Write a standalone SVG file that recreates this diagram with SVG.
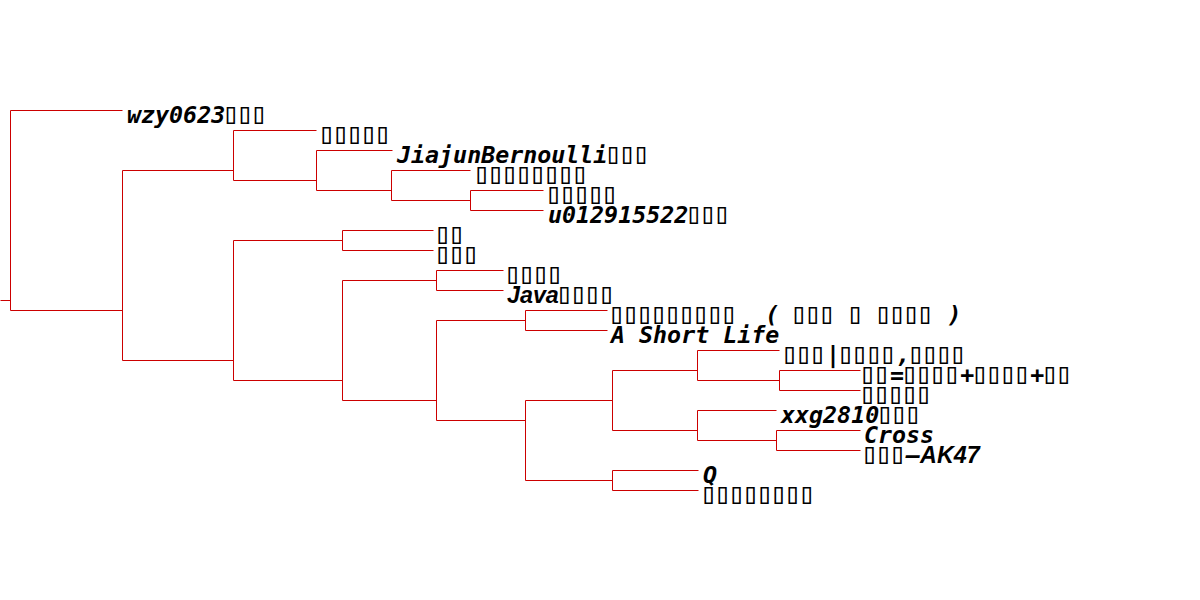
<svg xmlns="http://www.w3.org/2000/svg" width="1200" height="600" viewBox="0 0 1200 600">
<style>
.e{fill:none;stroke:#cc0000;stroke-width:1}
.t{font-family:"DejaVu Sans Mono","Liberation Mono",monospace;font-size:23.3px;font-weight:bold;font-style:italic;fill:#000}
.s{font-family:"Liberation Sans",Arial,sans-serif}
.b{font-size:29px;font-weight:normal;font-style:normal;letter-spacing:-3.44px}
</style>
<rect width="1200" height="600" fill="#fff"/>
<g id="connectors" transform="translate(0.5,0.5)">
<path class="e" d="M0,300 H10"/>
<path class="e" d="M122,110 H10 V310 H122"/>
<path class="e" d="M233,170 H122 V360 H233"/>
<path class="e" d="M316,130 H233 V180 H316"/>
<path class="e" d="M392,150 H316 V190 H391"/>
<path class="e" d="M470,170 H391 V200 H470"/>
<path class="e" d="M543,190 H470 V210 H543"/>
<path class="e" d="M342,240 H233 V380 H342"/>
<path class="e" d="M433,230 H342 V250 H433"/>
<path class="e" d="M436,280 H342 V400 H436"/>
<path class="e" d="M503,270 H436 V290 H503"/>
<path class="e" d="M525,320 H436 V420 H525"/>
<path class="e" d="M607,310 H525 V330 H607"/>
<path class="e" d="M612,400 H525 V480 H612"/>
<path class="e" d="M697,370 H612 V430 H697"/>
<path class="e" d="M779,350 H697 V380 H779"/>
<path class="e" d="M860,370 H779 V390 H860"/>
<path class="e" d="M776,410 H697 V440 H776"/>
<path class="e" d="M860,430 H776 V450 H860"/>
<path class="e" d="M698,470 H612 V490 H698"/>
</g>
<g id="n1"><text class="t" x="127" y="123">wzy0623<tspan class="b" dx="-3">▯▯▯</tspan></text></g>
<g id="n2"><text class="t b" x="318" y="143">▯▯▯▯▯</text></g>
<g id="n3"><text class="t" x="397" y="163">JiajunBernoulli<tspan class="b" dx="-3">▯▯▯</tspan></text></g>
<g id="n4"><text class="t b" x="473" y="183">▯▯▯▯▯▯▯▯</text></g>
<g id="n5"><text class="t b" x="545" y="203">▯▯▯▯▯</text></g>
<g id="n6"><text class="t" x="548" y="223">u012915522<tspan class="b" dx="-3">▯▯▯</tspan></text></g>
<g id="n7"><text class="t b" x="434" y="243">▯▯</text></g>
<g id="n8"><text class="t b" x="434" y="263">▯▯▯</text></g>
<g id="n9"><text class="t b" x="504" y="283">▯▯▯▯</text></g>
<g id="n10"><text class="t" x="507" y="303"><tspan class="s">Java</tspan><tspan class="b" dx="-3">▯▯▯▯</tspan></text></g>
<g id="n11"><text class="t" x="608" y="323" xml:space="preserve"><tspan class="b">▯▯▯▯▯▯▯▯▯</tspan><tspan dx="3">  ( </tspan><tspan class="b" dx="-3">▯▯▯</tspan><tspan dx="3"> </tspan><tspan class="b" dx="-3">▯</tspan><tspan dx="3"> </tspan><tspan class="b" dx="-3">▯▯▯▯</tspan><tspan dx="3"> )</tspan></text></g>
<g id="n12"><text class="t" x="611" y="343">A Short Life</text></g>
<g id="n13"><text class="t" x="781" y="363"><tspan class="b">▯▯▯</tspan><tspan dx="3">|</tspan><tspan class="b" dx="-3">▯▯▯▯</tspan><tspan dx="3">,</tspan><tspan class="b" dx="-3">▯▯▯▯</tspan></text></g>
<g id="n14"><text class="t" x="859" y="383"><tspan class="b">▯▯</tspan><tspan dx="3">=</tspan><tspan class="b" dx="-3">▯▯▯▯</tspan><tspan dx="3">+</tspan><tspan class="b" dx="-3">▯▯▯▯</tspan><tspan dx="3">+</tspan><tspan class="b" dx="-3">▯▯</tspan></text></g>
<g id="n15"><text class="t b" x="859" y="403">▯▯▯▯▯</text></g>
<g id="n16"><text class="t" x="781" y="423">xxg2810<tspan class="b" dx="-3">▯▯▯</tspan></text></g>
<g id="n17"><text class="t" x="864" y="443">Cross</text></g>
<g id="n18"><text class="t" x="861" y="463"><tspan class="b">▯▯▯</tspan><tspan dx="3">—</tspan><tspan class="s">AK47</tspan></text></g>
<g id="n19"><text class="t" x="703" y="483">Q</text></g>
<g id="n20"><text class="t b" x="700" y="503">▯▯▯▯▯▯▯▯</text></g>
</svg>
